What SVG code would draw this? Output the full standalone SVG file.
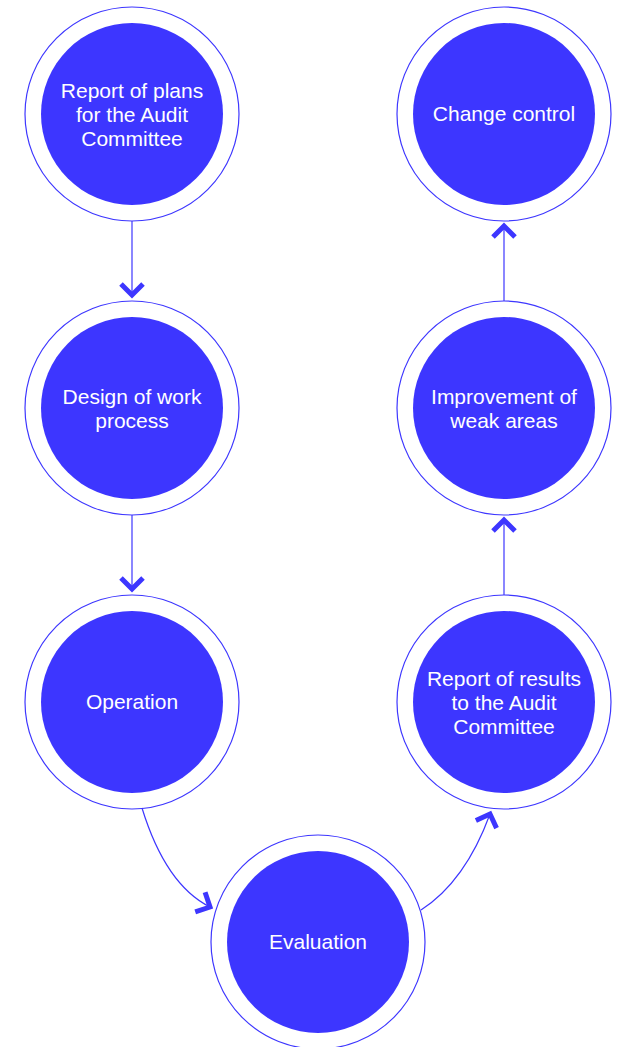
<svg xmlns="http://www.w3.org/2000/svg" width="621" height="1047" viewBox="0 0 621 1047">
<defs>
<style>
.ring{fill:none;stroke:#3d36ff;stroke-width:1.2}
.core{fill:#3d36ff}
.lbl{fill:#ffffff;font-family:"Liberation Sans",Arial,sans-serif;font-size:21px;text-anchor:middle}
.conn{fill:none;stroke:#3d36ff;stroke-width:1.2}
</style>
<marker id="chev" markerUnits="userSpaceOnUse" markerWidth="40" markerHeight="40" refX="0" refY="0" viewBox="-20 -20 40 40" orient="auto" overflow="visible">
<path d="M-11,-11 L0,0 L-11,11" fill="none" stroke="#3d36ff" stroke-width="5" stroke-linejoin="miter"/>
</marker>
</defs>
<rect width="621" height="1047" fill="#ffffff"/>
<g id="connectors">
<path class="conn" d="M132,221 L132,295" marker-end="url(#chev)"/>
<path class="conn" d="M132,515 L132,589" marker-end="url(#chev)"/>
<path class="conn" d="M142,808 C158,860 182,893 210,907" marker-end="url(#chev)"/>
<path class="conn" d="M421,910 C452,890 475,855 490,814" marker-end="url(#chev)"/>
<path class="conn" d="M504,595 L504,520" marker-end="url(#chev)"/>
<path class="conn" d="M504,301 L504,226" marker-end="url(#chev)"/>
</g>
<g id="n1">
<circle class="ring" cx="132" cy="114" r="107"/>
<circle class="core" cx="132" cy="114" r="91"/>
<text class="lbl" x="132" y="98">Report of plans</text>
<text class="lbl" x="132" y="122">for the Audit</text>
<text class="lbl" x="132" y="146">Committee</text>
</g>
<g id="n2">
<circle class="ring" cx="132" cy="408" r="107"/>
<circle class="core" cx="132" cy="408" r="91"/>
<text class="lbl" x="132" y="404">Design of work</text>
<text class="lbl" x="132" y="428">process</text>
</g>
<g id="n3">
<circle class="ring" cx="132" cy="702" r="107"/>
<circle class="core" cx="132" cy="702" r="91"/>
<text class="lbl" x="132" y="709">Operation</text>
</g>
<g id="n4">
<circle class="ring" cx="318" cy="942" r="107"/>
<circle class="core" cx="318" cy="942" r="91"/>
<text class="lbl" x="318" y="949">Evaluation</text>
</g>
<g id="n5">
<circle class="ring" cx="504" cy="702" r="107"/>
<circle class="core" cx="504" cy="702" r="91"/>
<text class="lbl" x="504" y="686">Report of results</text>
<text class="lbl" x="504" y="710">to the Audit</text>
<text class="lbl" x="504" y="734">Committee</text>
</g>
<g id="n6">
<circle class="ring" cx="504" cy="408" r="107"/>
<circle class="core" cx="504" cy="408" r="91"/>
<text class="lbl" x="504" y="404">Improvement of</text>
<text class="lbl" x="504" y="428">weak areas</text>
</g>
<g id="n7">
<circle class="ring" cx="504" cy="114" r="107"/>
<circle class="core" cx="504" cy="114" r="91"/>
<text class="lbl" x="504" y="121">Change control</text>
</g>
</svg>
